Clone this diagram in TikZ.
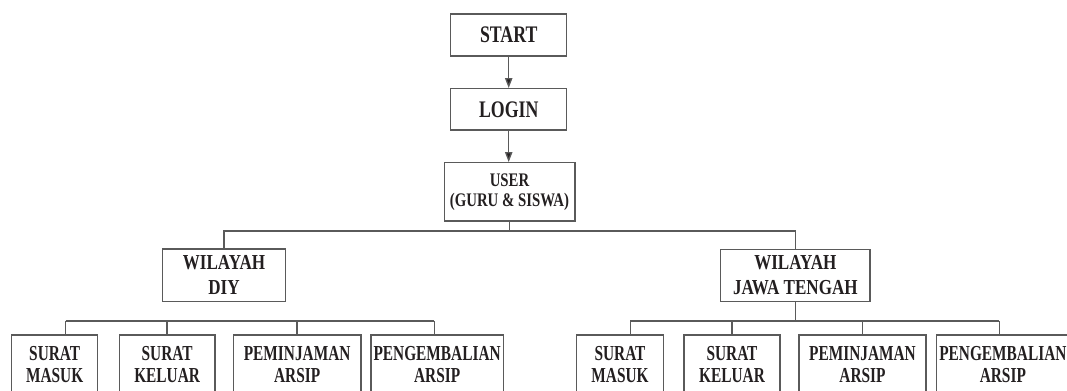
\documentclass[tikz,border=0pt]{standalone}
\usepackage{fontspec}
\setmainfont{Liberation Serif}
\newfontfamily\fTop[FakeStretch=0.75]{Liberation Serif}
\newfontfamily\fUser[FakeStretch=0.77]{Liberation Serif}
\newfontfamily\fWil[FakeStretch=0.80]{Liberation Serif}
\newfontfamily\fBot[FakeStretch=0.72]{Liberation Serif}
\usetikzlibrary{arrows.meta}
\definecolor{txt}{HTML}{231F20}
\definecolor{ln}{HTML}{5A5A5A}
\tikzset{
  box/.style={draw=ln, line width=1pt, rectangle, inner sep=0pt, text=txt, align=center},
  topbox/.style={box, font=\fTop\bfseries\fontsize{17.8pt}{20pt}\selectfont},
  userbox/.style={box, font=\fUser\bfseries\fontsize{14.4pt}{15pt}\selectfont},
  wilbox/.style={box, font=\fWil\bfseries\fontsize{16pt}{18.75pt}\selectfont},
  botbox/.style={box, font=\fBot\bfseries\fontsize{16pt}{16.5pt}\selectfont, minimum height=45pt},
  conn/.style={draw=ln, line width=1pt},
  arr/.style={conn, -{Triangle[length=7.5pt,width=5.5pt,fill=txt]}},
}
\begin{document}
\begin{tikzpicture}[x=0.75pt, y=-0.75pt]
\useasboundingbox (0,0) rectangle (1067,390);
\clip (0,0) rectangle (1067,390);
% top chain
\node[topbox, minimum width=87pt, minimum height=31.5pt] (start) at (508.7,35) {START};
\node[topbox, minimum width=87pt, minimum height=31pt] (login) at (508.7,109.35) {LOGIN};
\node[userbox, minimum width=98pt, minimum height=43.7pt] (user) at (509.5,191.85) {USER\\(GURU \& SISWA)};
\draw[arr] (start) -- (login);
\draw[arr] (login) -- (login.south |- user.north);
% regions
\node[wilbox, minimum width=92pt, minimum height=39.5pt] (diy) at (224,275.35) {WILAYAH\\DIY};
\node[wilbox, minimum width=112pt, minimum height=39.3pt] (jt) at (795.35,275.5) {WILAYAH\\JAWA TENGAH};
\coordinate (tb) at (509.5,231);
\draw[conn] (user.south) -- (tb);
\draw[conn] (diy.north) |- (tb) -| (jt.north);
% DIY children
\node[botbox, anchor=north, minimum width=64.5pt] (b1) at (54.7,334.3) {SURAT\\MASUK};
\node[botbox, anchor=north, minimum width=71.8pt] (b2) at (167.15,334.3) {SURAT\\KELUAR};
\node[botbox, anchor=north, minimum width=95.8pt] (b3) at (297.15,334.3) {PEMINJAMAN\\ARSIP};
\node[botbox, anchor=north, minimum width=99.2pt] (b4) at (437.15,334.3) {PENGEMBALIAN\\ARSIP};
\coordinate (dl) at (65.7,321);
\coordinate (dr) at (434.3,321);
\draw[conn] (dl) -- (dr);
\draw[conn] (dl) -- (dl |- b1.north);
\draw[conn] (b2.north) -- (b2.north |- dl);
\draw[conn] (b3.north) -- (b3.north |- dl);
\draw[conn] (dr) -- (dr |- b4.north);
% JT children
\node[botbox, anchor=north, minimum width=65pt] (c1) at (620,334.3) {SURAT\\MASUK};
\node[botbox, anchor=north, minimum width=72pt] (c2) at (732,334.3) {SURAT\\KELUAR};
\node[botbox, anchor=north, minimum width=95.3pt] (c3) at (862.5,334.3) {PEMINJAMAN\\ARSIP};
\node[botbox, anchor=north, minimum width=99.2pt] (c4) at (1002.85,334.3) {PENGEMBALIAN\\ARSIP};
\coordinate (jl) at (630.3,321);
\coordinate (jr) at (999.3,321);
\draw[conn] (jl) -- (jr);
\draw[conn] (jt.south) -- (jt.south |- jl);
\draw[conn] (jl) -- (jl |- c1.north);
\draw[conn] (c2.north) -- (c2.north |- jl);
\draw[conn] (c3.north) -- (c3.north |- jl);
\draw[conn] (jr) -- (jr |- c4.north);
\end{tikzpicture}
\end{document}
